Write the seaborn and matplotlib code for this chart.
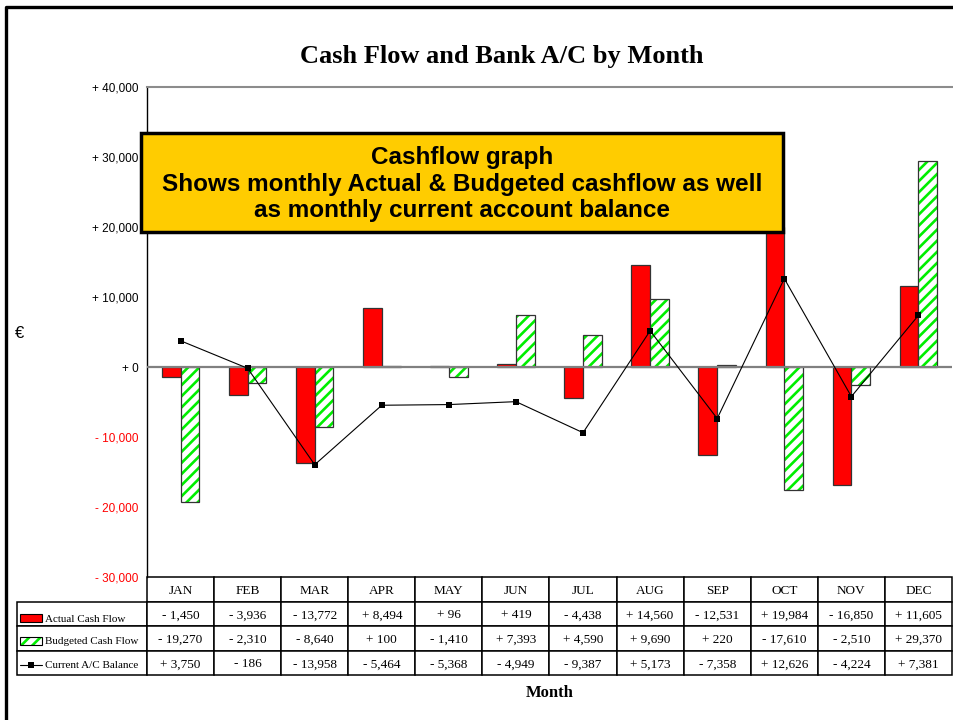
import numpy as np
import pandas as pd
import seaborn as sns
import matplotlib.pyplot as plt
from matplotlib.patches import Rectangle
from matplotlib.lines import Line2D
from matplotlib.ticker import FuncFormatter
from matplotlib.transforms import Affine2D

months = ['JAN', 'FEB', 'MAR', 'APR', 'MAY', 'JUN', 'JUL', 'AUG', 'SEP', 'OCT', 'NOV', 'DEC']
actual = [-1450, -3936, -13772, 8494, 96, 419, -4438, 14560, -12531, 19984, -16850, 11605]
budgeted = [-19270, -2310, -8640, 100, -1410, 7393, 4590, 9690, 220, -17610, -2510, 29370]
balance = [3750, -186, -13958, -5464, -5368, -4949, -9387, 5173, -7358, 12626, -4224, 7381]
series = ['Actual Cash Flow', 'Budgeted Cash Flow', 'Current A/C Balance']
yticks = [-30000, -20000, -10000, 0, 10000, 20000, 30000, 40000]
title = 'Cash Flow and Bank A/C by Month'
note = ('Cashflow graph\nShows monthly Actual & Budgeted cashflow as well\n'
        'as monthly current account balance')

sns.set_style('white')
plt.rcParams['font.family'] = ['Liberation Serif', 'DejaVu Serif']
plt.rcParams['hatch.linewidth'] = 1.9
for k in ['text.color', 'axes.labelcolor', 'xtick.color', 'ytick.color']:
    plt.rcParams[k] = 'black'

W, H = 954, 720
fig = plt.figure(figsize=(W / 100, H / 100), dpi=100)


def fx(px):
    return px / W


def fy(py):
    return 1 - py / H


def fmt(v):
    return ('+ ' if v >= 0 else '- ') + f'{abs(v):,}'


ax = fig.add_axes([fx(147), fy(577), fx(952) - fx(147), fy(87) - fy(577)])

df = pd.DataFrame({
    'month': months * 2,
    'series': [series[0]] * 12 + [series[1]] * 12,
    'value': actual + budgeted,
})
sns.barplot(data=df, x='month', y='value', hue='series', order=months,
            hue_order=series[:2], palette=['#FF0000', '#FFFFFF'], saturation=1,
            width=0.56, gap=0, edgecolor='#333333', linewidth=0.9,
            legend=False, ax=ax, zorder=2)

# green hatched budget bars with a grey outline
for bar in ax.containers[1]:
    bar.set_hatch('///')
    bar.set_edgecolor('#00EE00')
    bar.set_linewidth(0)
    ax.add_patch(Rectangle(bar.get_xy(), bar.get_width(), bar.get_height(),
                           fill=False, edgecolor='#333333', lw=0.9, zorder=3))

sns.lineplot(x=np.arange(len(months)), y=balance, color='black', lw=0.8,
             marker='s', markersize=5, markeredgewidth=0, ax=ax, zorder=4)

ax.axhline(0, color='#808080', lw=1.6, zorder=3)
ax.set_xlim(-0.5, len(months) - 0.5)
ax.set_ylim(yticks[0], yticks[-1])
ax.set_yticks(yticks)
ax.yaxis.set_major_formatter(FuncFormatter(lambda v, p: fmt(int(v))))
ax.set_xticks([])
ax.set_xlabel('')
ax.set_ylabel('')
ax.tick_params(axis='y', direction='out', length=4, width=1, color='black',
               pad=2, labelsize=8.5)
for lab, v in zip(ax.get_yticklabels(), yticks):
    lab.set_color('red' if v < 0 else 'black')
    lab.set_family(['Liberation Sans', 'DejaVu Sans'])

for s in ['right', 'bottom']:
    ax.spines[s].set_visible(False)
ax.spines['top'].set_color('#8c8c8c')
ax.spines['top'].set_linewidth(1.5)
ax.spines['left'].set_color('black')
ax.spines['left'].set_linewidth(1)

# data table below the plot, first column holds the legend keys
cell_text = [[''] + [fmt(v) for v in row] for row in (actual, budgeted, balance)]
lab_w = 130 / 805
tbl = ax.table(cellText=cell_text, colLabels=[''] + months,
               colWidths=[lab_w] + [1 / 12] * 12, cellLoc='center',
               bbox=[-lab_w, -98 / 490, 1 + lab_w, 98 / 490])
tbl.auto_set_font_size(False)
tbl.set_fontsize(9.5)
for (r, c), cell in tbl.get_celld().items():
    cell.set_linewidth(1.1)
    cell.set_edgecolor('black')
    txt = cell.get_text()
    txt.set_color('black')
    txt.set_va('baseline')
    txt.set_transform(Affine2D().translate(0, -4.5))
tbl[(0, 0)].visible_edges = ''

# legend keys inside the row-label cells
key_x0, key_x1 = 20, 42
rows_y = [618, 641, 665]
kw, kh = fx(key_x1) - fx(key_x0), 8 / H
fig.patches.append(Rectangle((fx(key_x0), fy(rows_y[0] + 4)), kw, kh,
                             transform=fig.transFigure, facecolor='#FF0000',
                             edgecolor='black', lw=0.8))
fig.patches.append(Rectangle((fx(key_x0), fy(rows_y[1] + 4)), kw, kh,
                             transform=fig.transFigure, facecolor='white',
                             edgecolor='#00EE00', hatch='///', lw=0))
fig.patches.append(Rectangle((fx(key_x0), fy(rows_y[1] + 4)), kw, kh,
                             transform=fig.transFigure, fill=False,
                             edgecolor='black', lw=0.8))
fig.lines.append(Line2D([fx(key_x0), fx(key_x1)], [fy(rows_y[2])] * 2,
                        transform=fig.transFigure, color='black', lw=0.8))
fig.lines.append(Line2D([fx(31)], [fy(rows_y[2])], transform=fig.transFigure,
                        color='black', marker='s', markersize=5, markeredgewidth=0))
for name, yy in zip(series, rows_y):
    fig.text(fx(45), fy(yy + 1), name, fontsize=8, ha='left', va='center')

# title, axis captions
fig.text(fx(502), fy(57), title, fontsize=19, fontweight='bold', ha='center', va='center')
fig.text(fx(550), fy(693), 'Month', fontsize=12, fontweight='bold', ha='center', va='center')
fig.text(fx(20), fy(333), '€', fontsize=12, ha='center', va='center',
         family=['Liberation Sans', 'DejaVu Sans'])

# yellow note box
fig.patches.append(Rectangle((fx(141), fy(232)), fx(783) - fx(141), fy(133) - fy(232),
                             transform=fig.transFigure, facecolor='#FFCC00',
                             edgecolor='black', lw=2.5, zorder=5))
fig.text(fx(462), fy(184), note, fontsize=17.5, fontweight='bold', ha='center', va='center',
         linespacing=1.22, family=['Liberation Sans', 'DejaVu Sans'], zorder=6)

# outer frame
fig.lines.append(Line2D([fx(6), fx(6), 1.0], [0.0, fy(7), fy(7)], transform=fig.transFigure,
                        color='black', lw=2.4))

fig.savefig('out.png', dpi=100)
